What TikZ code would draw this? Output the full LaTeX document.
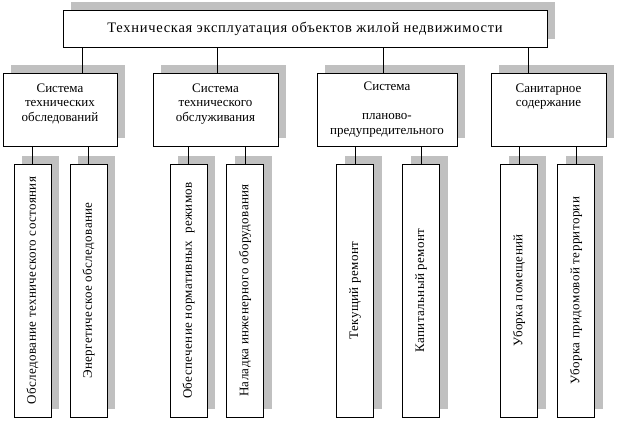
\documentclass[tikz,border=0pt]{standalone}
\usepackage{fontspec}
\setmainfont{Liberation Serif}
\newfontfamily\topfont[LetterSpace=5]{Liberation Serif}
\newfontfamily\leaffont[LetterSpace=3]{Liberation Serif}
\usetikzlibrary{shadows}
\definecolor{shadowgray}{RGB}{192,192,192}
\tikzset{
  box/.style={draw=black, line width=0.9pt, fill=white, rectangle, inner sep=0pt,
    general shadow={fill=shadowgray, shadow xshift=8pt, shadow yshift=8pt}},
  topbox/.style={box, minimum width=484pt, minimum height=37pt,
    font=\topfont\fontsize{14.5}{16}\selectfont},
  midbox/.style={box, minimum height=73pt, align=center,
    font=\fontsize{13}{14.5}\selectfont},
  leafbox/.style={box, minimum width=37pt, minimum height=253pt,
    font=\leaffont\fontsize{13}{14.5}\selectfont},
  conn/.style={draw=black, line width=0.8pt}
}
\begin{document}
\begin{tikzpicture}[x=1pt,y=-1pt]
\useasboundingbox (0,0) rectangle (618,421);
% top
\node[topbox] (top) at (305,28.5) {Техническая эксплуатация объектов жилой недвижимости};
% second level
\node[midbox, minimum width=114pt] (s1) at (60,109.5) {Система\\технических\\обследований\\\mbox{}};
\node[midbox, minimum width=125pt] (s2) at (215.5,109.5) {Система\\технического\\обслуживания\\\mbox{}};
\node[midbox, minimum width=140pt] (s3) at (387,109.5) {Система\\\mbox{}\\планово-\\предупредительного};
\node[midbox, minimum width=115pt] (s4) at (548.5,109.5) {Санитарное\\содержание\\\mbox{}\\\mbox{}};
% leaves
\node[leafbox] (l1) at (32.5,290.5) {\rotatebox{90}{Обследование технического состояния}};
\node[leafbox] (l2) at (88.5,290.5) {\rotatebox{90}{Энергетическое обследование}};
\node[leafbox] (l3) at (188.5,290.5) {\rotatebox{90}{Обеспечение нормативных\ \ режимов}};
\node[leafbox] (l4) at (245,290.5) {\rotatebox{90}{Наладка инженерного оборудования}};
\node[leafbox] (l5) at (355,290.5) {\rotatebox{90}{Текущий ремонт}};
\node[leafbox] (l6) at (421,290.5) {\rotatebox{90}{Капитальный ремонт}};
\node[leafbox] (l7) at (519,290.5) {\rotatebox{90}{Уборка помещений}};
\node[leafbox] (l8) at (576,290.5) {\rotatebox{90}{Уборка придомовой территории}};
% connectors top -> second level
\coordinate (c1) at (82,0);
\coordinate (c2) at (217,0);
\coordinate (c3) at (383,0);
\coordinate (c4) at (528,0);
\draw[conn] (c1 |- top.south) -- (c1 |- s1.north);
\draw[conn] (c2 |- top.south) -- (c2 |- s2.north);
\draw[conn] (c3 |- top.south) -- (c3 |- s3.north);
\draw[conn] (c4 |- top.south) -- (c4 |- s4.north);
% connectors second level -> leaves
\draw[conn] (l1.north |- s1.south) -- (l1.north);
\draw[conn] (l2.north |- s1.south) -- (l2.north);
\draw[conn] (l3.north |- s2.south) -- (l3.north);
\draw[conn] (l4.north |- s2.south) -- (l4.north);
\draw[conn] (l5.north |- s3.south) -- (l5.north);
\draw[conn] (l6.north |- s3.south) -- (l6.north);
\draw[conn] (l7.north |- s4.south) -- (l7.north);
\draw[conn] (l8.north |- s4.south) -- (l8.north);
\end{tikzpicture}
\end{document}
